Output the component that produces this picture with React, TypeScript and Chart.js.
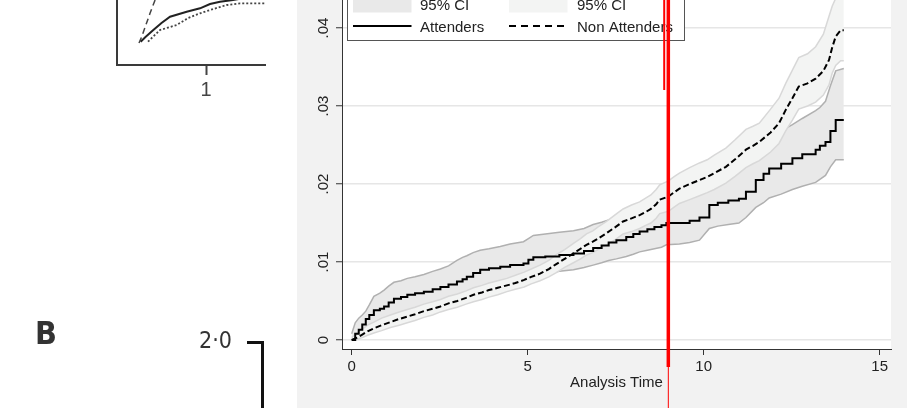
import React, { useEffect, useRef } from 'react';
import { Chart, registerables } from 'chart.js';
Chart.register(...registerables);

// ---------- Main chart data (Kaplan-Meier failure estimates) ----------
const ATT_T = [0, 0.1, 0.2, 0.3, 0.4, 0.5, 0.63, 0.8, 0.92, 1.05, 1.2, 1.4, 1.58, 1.8, 2.05, 2.3, 2.52, 2.75, 2.99, 3.15, 3.27, 3.45, 3.65, 3.9, 4.22, 4.5, 4.88, 5.02, 5.16, 5.5, 5.9, 6.3, 6.6, 6.86, 7.1, 7.3, 7.52, 7.8, 8.0, 8.18, 8.4, 8.6, 8.8, 8.94, 9.31, 9.6, 9.88, 10.16, 10.4, 10.7, 11.0, 11.2, 11.48, 11.7, 11.86, 12.2, 12.52, 12.8, 13.18, 13.3, 13.46, 13.6, 13.75, 13.98];
const ATT_EST = [0, .0008, .0013, .002, .0027, .0032, .0038, .004, .0043, .0048, .0053, .0055, .0058, .006, .0062, .0065, .0068, .0071, .0075, .0078, .0081, .0086, .009, .0092, .0094, .0096, .0098, .0103, .0106, .0107, .0109, .0111, .0114, .0118, .0121, .0125, .0128, .0132, .0136, .0139, .0142, .0145, .0147, .015, .015, .0153, .0157, .0173, .0176, .0179, .0181, .019, .0205, .0213, .022, .0226, .0233, .0238, .0244, .0249, .0254, .0268, .0282, .0282];
const ATT_LO = [0, .0002, .0004, .0007, .001, .0013, .0017, .0019, .0022, .0026, .003, .0032, .0035, .0038, .004, .0043, .0046, .0049, .0053, .0056, .0059, .0063, .0067, .0069, .0071, .0073, .0075, .008, .0083, .0085, .0088, .009, .0093, .0096, .0099, .0102, .0104, .0107, .011, .0113, .0115, .0117, .0119, .0122, .0123, .0125, .0128, .0143, .0146, .0148, .015, .0157, .017, .0176, .0182, .0187, .0193, .0197, .0202, .0206, .0211, .0222, .0231, .0231];
const ATT_HI = [.0008, .0022, .0028, .0032, .0037, .0045, .0056, .006, .0064, .0069, .0074, .0076, .0079, .0081, .0084, .0088, .0091, .0095, .0102, .0106, .0108, .0112, .0115, .0117, .012, .0123, .0126, .013, .0134, .0136, .0138, .014, .0143, .0148, .0151, .0154, .0157, .016, .0165, .0168, .0172, .0176, .0178, .0182, .0183, .0186, .019, .0208, .0212, .0215, .0218, .0228, .0245, .0254, .0262, .0268, .0276, .0284, .0294, .0298, .0306, .0326, .0345, .0348];

const NON_T = [0, 0.15, 0.3, 0.45, 0.63, 0.85, 1.1, 1.35, 1.58, 1.8, 2.05, 2.3, 2.52, 2.75, 3.0, 3.25, 3.46, 3.7, 3.9, 4.15, 4.41, 4.65, 4.9, 5.1, 5.35, 5.6, 5.8, 6.05, 6.3, 6.5, 6.67, 6.85, 7.0, 7.24, 7.5, 7.71, 7.95, 8.18, 8.35, 8.5, 8.65, 8.75, 9.0, 9.15, 9.31, 9.6, 9.88, 10.1, 10.3, 10.63, 10.9, 11.2, 11.4, 11.58, 11.9, 12.14, 12.33, 12.52, 12.7, 12.95, 13.18, 13.4, 13.56, 13.65, 13.75, 13.89, 13.98];
const NON_EST = [0, .0003, .0007, .0011, .0015, .0019, .0023, .0027, .003, .0033, .0037, .004, .0043, .0047, .005, .0054, .0058, .0061, .0064, .0067, .007, .0073, .0077, .0081, .0085, .0091, .0097, .0104, .0111, .0117, .0122, .0126, .013, .0137, .0145, .0152, .0156, .016, .0164, .0168, .0174, .018, .0184, .0189, .0194, .02, .0205, .0209, .0214, .0222, .0232, .0244, .0249, .0254, .0266, .0278, .0295, .031, .0325, .0329, .0335, .0345, .0359, .0375, .0389, .0397, .0397];
const NON_LO = [0, .0001, .0003, .0006, .0009, .0012, .0016, .0019, .0022, .0025, .0029, .0032, .0036, .0039, .0042, .0046, .0049, .0052, .0055, .0058, .0062, .0065, .0068, .0072, .0076, .0081, .0086, .0093, .0099, .0104, .0109, .0112, .0116, .0122, .0129, .0136, .0139, .0143, .0147, .015, .0156, .0162, .0165, .017, .0175, .018, .0185, .0189, .0193, .0201, .021, .0221, .0226, .023, .0241, .0252, .0268, .0282, .0296, .03, .0305, .0314, .0327, .0342, .0352, .0358, .0358];
const NON_HI = [.0003, .0009, .0014, .0019, .0023, .0028, .0032, .0036, .0039, .0042, .0046, .0049, .0052, .0056, .0059, .0063, .0067, .007, .0073, .0076, .0079, .0083, .0087, .0091, .0096, .0102, .0109, .0116, .0124, .013, .0136, .014, .0145, .0152, .0161, .0168, .0173, .0177, .0182, .0186, .0193, .0199, .0204, .0209, .0214, .0221, .0227, .0231, .0237, .0246, .0257, .027, .0274, .0278, .0296, .031, .0329, .0346, .0362, .0367, .0376, .0392, .0415, .0428, .0438, .0447, .0447];

const X_TICKS = [0, 5, 10, 15];
const X_TICK_LABELS = ['0', '5', '10', '15'];
const Y_TICKS = [0, 0.01, 0.02, 0.03, 0.04];
const Y_TICK_LABELS = ['0', '.01', '.02', '.03', '.04'];
const LEGEND_ROW1 = ['95% CI', '95% CI'];
const LEGEND_ROW2 = ['Attenders', 'Non Attenders'];
const X_TITLE = 'Analysis Time';
const MARK_T = 8.995;
const MARK2_T = 8.878;

// ---------- Fragment of neighbouring figure (top-left) ----------
const FRAG_SOLID_X = [0.266, 0.32, 0.408, 0.5, 0.596, 0.783, 0.933, 1.045, 1.157, 1.303, 1.494, 1.674];
const FRAG_SOLID_Y = [0.233, 0.28, 0.35, 0.42, 0.483, 0.533, 0.567, 0.61, 0.633, 0.65, 0.68, 0.7];
const FRAG_DOT_X = [0.348, 0.483, 0.671, 0.8, 0.933, 1.045, 1.233, 1.382, 1.674];
const FRAG_DOT_Y = [0.233, 0.35, 0.4, 0.47, 0.517, 0.55, 0.6, 0.617, 0.617];
const FRAG_DASH_X = [0.247, 0.278, 0.371, 0.449];
const FRAG_DASH_Y = [0.22, 0.283, 0.517, 0.7];
const FRAG_X_TICKS = [1];
const FRAG_X_LABELS = ['1'];
const FRAG2_Y_TICKS = [2];
const FRAG2_Y_LABELS = ['2·0'];
const PANEL_LABEL = 'B';

const FONT = "'Liberation Sans', Arial, Helvetica, sans-serif";
const COND = "'DejaVu Sans Condensed', 'Liberation Sans Narrow', sans-serif";
const ATT_FILL = '#e9e9e9';
const ATT_EDGE = '#b0b0b0';
const NON_FILL = '#f3f4f3';
const NON_EDGE = '#d8d8d8';

const pts = (t: number[], v: number[]) => t.map((x, i) => ({ x, y: v[i] }));

function MainChart() {
  const ref = useRef<HTMLCanvasElement>(null);
  useEffect(() => {
    const canvas = ref.current!;
    const plotBg = {
      id: 'plotBg',
      beforeDraw(chart: any) {
        const { ctx, chartArea: a } = chart;
        ctx.save();
        ctx.fillStyle = '#ffffff';
        ctx.fillRect(a.left, a.top, a.right - a.left, a.bottom - a.top);
        ctx.restore();
      },
    };
    const yLabels = {
      id: 'yLabels',
      afterDraw(chart: any) {
        const y = chart.scales.y;
        const ctx = chart.ctx;
        ctx.save();
        ctx.font = `15px ${FONT}`;
        ctx.fillStyle = '#222';
        ctx.textAlign = 'center';
        ctx.textBaseline = 'middle';
        Y_TICKS.forEach((v, i) => {
          const py = y.getPixelForValue(v);
          ctx.save();
          ctx.translate(y.right - 18.5, py);
          ctx.rotate(-Math.PI / 2);
          ctx.fillText(Y_TICK_LABELS[i], 0, 0);
          ctx.restore();
        });
        ctx.restore();
      },
    };
    const legendPlugin = {
      id: 'customLegend',
      afterDraw(chart: any) {
        const ctx = chart.ctx;
        const L = chart.chartArea.left;
        ctx.save();
        ctx.fillStyle = '#ffffff';
        ctx.fillRect(L + 5.5, -5, 337, 45.5);
        ctx.strokeStyle = '#555';
        ctx.lineWidth = 1;
        ctx.strokeRect(L + 5.5, -5, 337, 45.5);
        ctx.fillStyle = ATT_FILL;
        ctx.fillRect(L + 11, -3, 58.5, 15.5);
        ctx.fillStyle = NON_FILL;
        ctx.fillRect(L + 167, -3, 58.5, 15.5);
        ctx.strokeStyle = '#000';
        ctx.lineWidth = 2;
        ctx.beginPath();
        ctx.moveTo(L + 11, 26);
        ctx.lineTo(L + 69.5, 26);
        ctx.stroke();
        ctx.setLineDash([7, 5]);
        ctx.beginPath();
        ctx.moveTo(L + 167, 26);
        ctx.lineTo(L + 226, 26);
        ctx.stroke();
        ctx.setLineDash([]);
        ctx.font = `15px ${FONT}`;
        ctx.fillStyle = '#222';
        ctx.textAlign = 'left';
        ctx.textBaseline = 'middle';
        ctx.fillText(LEGEND_ROW1[0], L + 78, 5.5);
        ctx.fillText(LEGEND_ROW1[1], L + 235, 5.5);
        ctx.fillText(LEGEND_ROW2[0], L + 78, 27.5);
        ctx.fillText(LEGEND_ROW2[1], L + 235, 27.5);
        ctx.restore();
      },
    };
    const redLines = {
      id: 'redLines',
      afterDraw(chart: any) {
        const ctx = chart.ctx;
        const x = chart.scales.x;
        const p1 = x.getPixelForValue(MARK_T);
        const p2 = x.getPixelForValue(MARK2_T);
        ctx.save();
        ctx.strokeStyle = '#ff0000';
        ctx.lineWidth = 2;
        ctx.beginPath();
        ctx.moveTo(p2, 0);
        ctx.lineTo(p2, 90);
        ctx.stroke();
        ctx.lineWidth = 3.5;
        ctx.beginPath();
        ctx.moveTo(p1, 0);
        ctx.lineTo(p1, 367);
        ctx.stroke();
        ctx.lineWidth = 1;
        ctx.beginPath();
        ctx.moveTo(p1, 367);
        ctx.lineTo(p1, chart.height);
        ctx.stroke();
        ctx.restore();
      },
    };
    const band = { pointRadius: 0, stepped: false, tension: 0 };
    const step = { pointRadius: 0, stepped: true as const, tension: 0 };
    const chart = new Chart(canvas, {
      type: 'line',
      data: {
        datasets: [
          { ...band, label: 'Attenders 95% CI', data: pts(ATT_T, ATT_HI), borderColor: ATT_EDGE, backgroundColor: ATT_FILL, borderWidth: 1.5, fill: 1, order: 6 },
          { ...band, label: 'Attenders lower', data: pts(ATT_T, ATT_LO), borderColor: ATT_EDGE, borderWidth: 1.5, fill: false, order: 5 },
          { ...band, label: 'Non Attenders 95% CI', data: pts(NON_T, NON_HI), borderColor: NON_EDGE, backgroundColor: NON_FILL, borderWidth: 1.5, fill: 3, order: 4 },
          { ...band, label: 'Non Attenders lower', data: pts(NON_T, NON_LO), borderColor: NON_EDGE, borderWidth: 1.5, fill: false, order: 3 },
          { ...band, label: 'Non Attenders', data: pts(NON_T, NON_EST), borderColor: '#000', borderWidth: 2, borderDash: [6, 3], fill: false, order: 2 },
          { ...step, label: 'Attenders', data: pts(ATT_T, ATT_EST), borderColor: '#000', borderWidth: 2, fill: false, order: 1 },
        ],
      },
      options: {
        responsive: false,
        animation: false,
        devicePixelRatio: 1,
        layout: { padding: { left: 0, right: 16, top: 0, bottom: 0 } },
        plugins: { legend: { display: false }, tooltip: { enabled: false } },
        scales: {
          x: {
            type: 'linear',
            min: -0.2756,
            max: 15.321,
            bounds: 'data',
            afterBuildTicks: (s: any) => { s.ticks = X_TICKS.map((v) => ({ value: v })); },
            afterFit: (s: any) => { s.height = 59; },
            grid: { display: true, drawOnChartArea: false, drawTicks: true, tickLength: 6, tickColor: '#333', tickWidth: 1 },
            border: { display: true, color: '#333', width: 1 },
            ticks: {
              font: { family: FONT, size: 15 },
              color: '#222',
              padding: 3,
              maxRotation: 0,
              autoSkip: false,
              callback: (v: any) => { const i = X_TICKS.indexOf(Number(v)); return i >= 0 ? X_TICK_LABELS[i] : ''; },
            },
            title: { display: true, text: X_TITLE, font: { family: FONT, size: 15 }, color: '#222', padding: { top: 0, bottom: 16 } },
          },
          y: {
            type: 'linear',
            min: -0.001154,
            max: 0.04359,
            bounds: 'data',
            afterBuildTicks: (s: any) => { s.ticks = Y_TICKS.map((v) => ({ value: v })); },
            afterFit: (s: any) => { s.width = 45; },
            grid: { color: '#e6e6e6', lineWidth: 1.5, drawTicks: true, tickLength: 6, tickColor: '#333', tickWidth: 1 },
            border: { display: true, color: '#333', width: 1 },
            ticks: { display: false },
          },
        },
      } as any,
      plugins: [plotBg, yLabels, legendPlugin, redLines],
    });
    return () => chart.destroy();
  }, []);
  return <canvas ref={ref} width={610} height={408} style={{ display: 'block', width: 610, height: 408 }} />;
}

function FragTop() {
  const ref = useRef<HTMLCanvasElement>(null);
  useEffect(() => {
    const chart = new Chart(ref.current!, {
      type: 'line',
      data: {
        datasets: [
          { data: pts(FRAG_SOLID_X, FRAG_SOLID_Y), borderColor: '#222', borderWidth: 2, pointRadius: 0, fill: false },
          { data: pts(FRAG_DOT_X, FRAG_DOT_Y), borderColor: '#444', borderWidth: 1.8, borderDash: [2, 2], pointRadius: 0, fill: false },
          { data: pts(FRAG_DASH_X, FRAG_DASH_Y), borderColor: '#444', borderWidth: 1.5, borderDash: [6, 4], pointRadius: 0, fill: false },
        ],
      },
      options: {
        responsive: false,
        animation: false,
        devicePixelRatio: 1,
        layout: { padding: { left: 117, right: 0, top: 0, bottom: 0 } },
        plugins: { legend: { display: false }, tooltip: { enabled: false } },
        scales: {
          x: {
            type: 'linear', min: 0, max: 1.674, bounds: 'data',
            afterBuildTicks: (s: any) => { s.ticks = FRAG_X_TICKS.map((v) => ({ value: v })); },
            afterFit: (s: any) => { s.height = 35; },
            grid: { display: true, drawOnChartArea: false, tickLength: 10, tickColor: '#444', tickWidth: 2 },
            border: { display: true, color: '#3a3a3a', width: 2 },
            ticks: { font: { family: FONT, size: 20 }, color: '#444', padding: 3, maxRotation: 0, callback: (_v: any, i: number) => FRAG_X_LABELS[i] ?? '' },
          },
          y: {
            type: 'linear', min: 0, max: 1, bounds: 'data',
            afterFit: (s: any) => { s.width = 0; },
            grid: { display: false },
            border: { display: true, color: '#3a3a3a', width: 2 },
            ticks: { display: false },
          },
        },
      } as any,
    });
    return () => chart.destroy();
  }, []);
  return <canvas ref={ref} width={266} height={135} style={{ position: 'absolute', left: 0, top: -35, display: 'block', width: 266, height: 135 }} />;
}

function FragBottom() {
  const ref = useRef<HTMLCanvasElement>(null);
  useEffect(() => {
    const chart = new Chart(ref.current!, {
      type: 'line',
      data: { datasets: [] },
      options: {
        responsive: false,
        animation: false,
        devicePixelRatio: 1,
        layout: { padding: { left: 0, right: 0, top: 42, bottom: 0 } },
        plugins: { legend: { display: false }, tooltip: { enabled: false } },
        scales: {
          x: { type: 'linear', display: false, min: 0, max: 1 },
          y: {
            type: 'linear', min: 0, max: 2, bounds: 'data',
            afterBuildTicks: (s: any) => { s.ticks = FRAG2_Y_TICKS.map((v) => ({ value: v })); },
            afterFit: (s: any) => { s.width = 262; },
            grid: { display: true, drawOnChartArea: false, tickLength: 15, tickColor: '#111', tickWidth: 3 },
            border: { display: true, color: '#111', width: 3 },
            ticks: { font: { family: COND, size: 23 }, color: '#333', padding: 15, callback: (_v: any, i: number) => FRAG2_Y_LABELS[i] ?? '' },
          },
        },
      } as any,
    });
    return () => chart.destroy();
  }, []);
  return <canvas ref={ref} width={297} height={180} style={{ position: 'absolute', left: 0, top: 300, display: 'block', width: 297, height: 180 }} />;
}

export default function App() {
  useEffect(() => {
    document.body.style.margin = '0';
  }, []);
  return (
    <div style={{ position: 'fixed', left: 0, top: 0, width: 907, height: 408, overflow: 'hidden', background: '#ffffff' }}>
      <div style={{ position: 'absolute', left: 0, top: 0, width: 266, height: 100, overflow: 'hidden' }}>
        <FragTop />
      </div>
      <FragBottom />
      <div style={{ position: 'absolute', left: 35, top: 317, fontFamily: COND, fontWeight: 'bold', fontSize: 32, lineHeight: '32px', color: '#333' }}>{PANEL_LABEL}</div>
      <div style={{ position: 'absolute', left: 297, top: 0, width: 610, height: 408, background: '#f2f2f2' }}>
        <MainChart />
      </div>
    </div>
  );
}
